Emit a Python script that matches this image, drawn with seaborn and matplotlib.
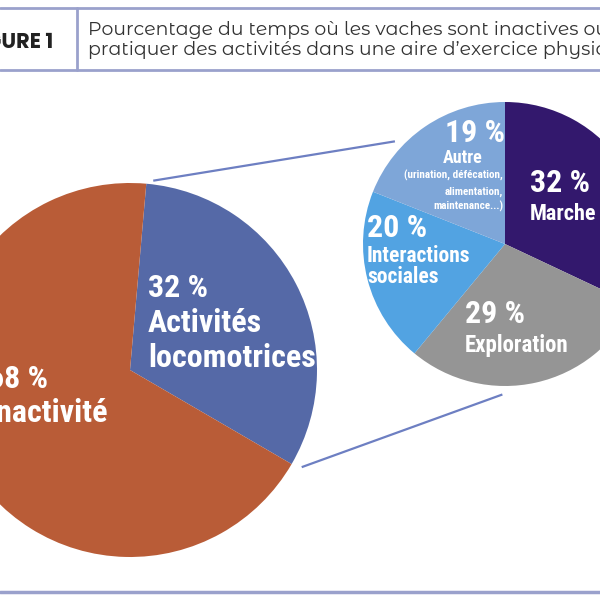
import matplotlib
matplotlib.use("Agg")
import matplotlib.pyplot as plt
import numpy as np
import seaborn as sns

# ---------------- data ----------------
main_labels = ["Activités\nlocomotrices", "Inactivité"]
main_values = [32, 68]
sub_labels = ["Marche", "Exploration", "Interactions\nsociales", "Autre"]
sub_values = [32, 29, 20, 19]
autre_note = ["(urination, défécation,", "alimentation,", "maintenance...)"]
figure_tag = "FIGURE 1"
title_lines = ["Pourcentage du temps où les vaches sont inactives ou à",
               "pratiquer des activités dans une aire d’exercice physique"]

main_colors = ["#5569a7", "#b95c37"]
sub_colors = ["#33186d", "#959595", "#52a3e2", "#7ea6d8"]

sns.set_theme(style="white")
COND = dict(family=["Roboto Condensed", "DejaVu Sans"], fontweight="bold")
HEAD = ["Montserrat Alternates", "DejaVu Sans"]
TAG = ["Poppins", "DejaVu Sans"]

H = 600
def Y(y):
    return H - y

fig = plt.figure(figsize=(6, 6), dpi=100)
ax = fig.add_axes([0, 0, 1, 1])

# big pie
big_c = (130, Y(370)); big_r = 187
ax.pie(main_values, colors=main_colors, startangle=85, counterclock=False,
       center=big_c, radius=big_r, wedgeprops=dict(linewidth=0))
# small pie
sm_c = (505, Y(244)); sm_r = 142
ax.pie(sub_values, colors=sub_colors, startangle=90, counterclock=False,
       center=sm_c, radius=sm_r, wedgeprops=dict(linewidth=0))

ax.set_xlim(0, 600)
ax.set_ylim(0, 600)
ax.set_aspect("auto")
ax.axis("off")

# connectors
def pt(c, r, ang, k):
    a = np.deg2rad(ang)
    return c[0] + k * r * np.cos(a), c[1] + k * r * np.sin(a)

lc = "#6d7fc2"
for a1, k1, a2, k2 in [(83, 1.02, 137, 1.06), (-29.5, 1.055, -91, 1.06)]:
    p1 = pt(big_c, big_r, a1, k1); p2 = pt(sm_c, sm_r, a2, k2)
    ax.plot([p1[0], p2[0]], [p1[1], p2[1]], color=lc, lw=1.6, solid_capstyle="butt")

W = "white"
def lab(x, y, s, size, ha="left"):
    ax.text(x, Y(y), s, color=W, fontsize=size, ha=ha, va="baseline", **COND)

BIG = 23
# big pie labels
l1, l2 = main_labels[0].split("\n")
lab(148, 297, f"{main_values[0]} %", BIG)
lab(148, 332, l1, BIG)
lab(148, 367, l2, BIG)
lab(-12, 388, f"{main_values[1]} %", BIG)
lab(-12, 422, main_labels[1].lower(), BIG)

# small pie labels
lab(530, 192, f"{sub_values[0]} %", BIG)
lab(530, 220, sub_labels[0], 16)
lab(465, 323, f"{sub_values[1]} %", BIG)
lab(465, 352, sub_labels[1], 16.5)
i1, i2 = sub_labels[2].split("\n")
lab(367, 237, f"{sub_values[2]} %", BIG)
lab(367, 262, i1, 15.5)
lab(367, 283, i2, 15.5)
lab(475, 142, f"{sub_values[3]} %", BIG, ha="center")
lab(463, 163, sub_labels[3], 13, ha="center")
for yb, s in zip([179, 195, 210], autre_note):
    lab(503, yb, s, 8, ha="right")

# header
hc = "#9aa1cc"
ax.plot([0, 600], [Y(8), Y(8)], color=hc, lw=2)
ax.plot([0, 600], [Y(70), Y(70)], color=hc, lw=2)
ax.plot([77, 77], [Y(8), Y(70)], color=hc, lw=2)
ax.plot([0, 600], [Y(592), Y(592)], color=hc, lw=2.5)
ax.text(53, Y(48), figure_tag, color="#222222", fontsize=15, fontweight="bold",
        ha="right", va="baseline", family=TAG)
ax.text(88, Y(35), title_lines[0], color="#333333", fontsize=13.6, ha="left",
        va="baseline", family=HEAD)
ax.text(88, Y(55), title_lines[1], color="#333333", fontsize=13.6, ha="left",
        va="baseline", family=HEAD)

fig.savefig("out.png", dpi=100)
